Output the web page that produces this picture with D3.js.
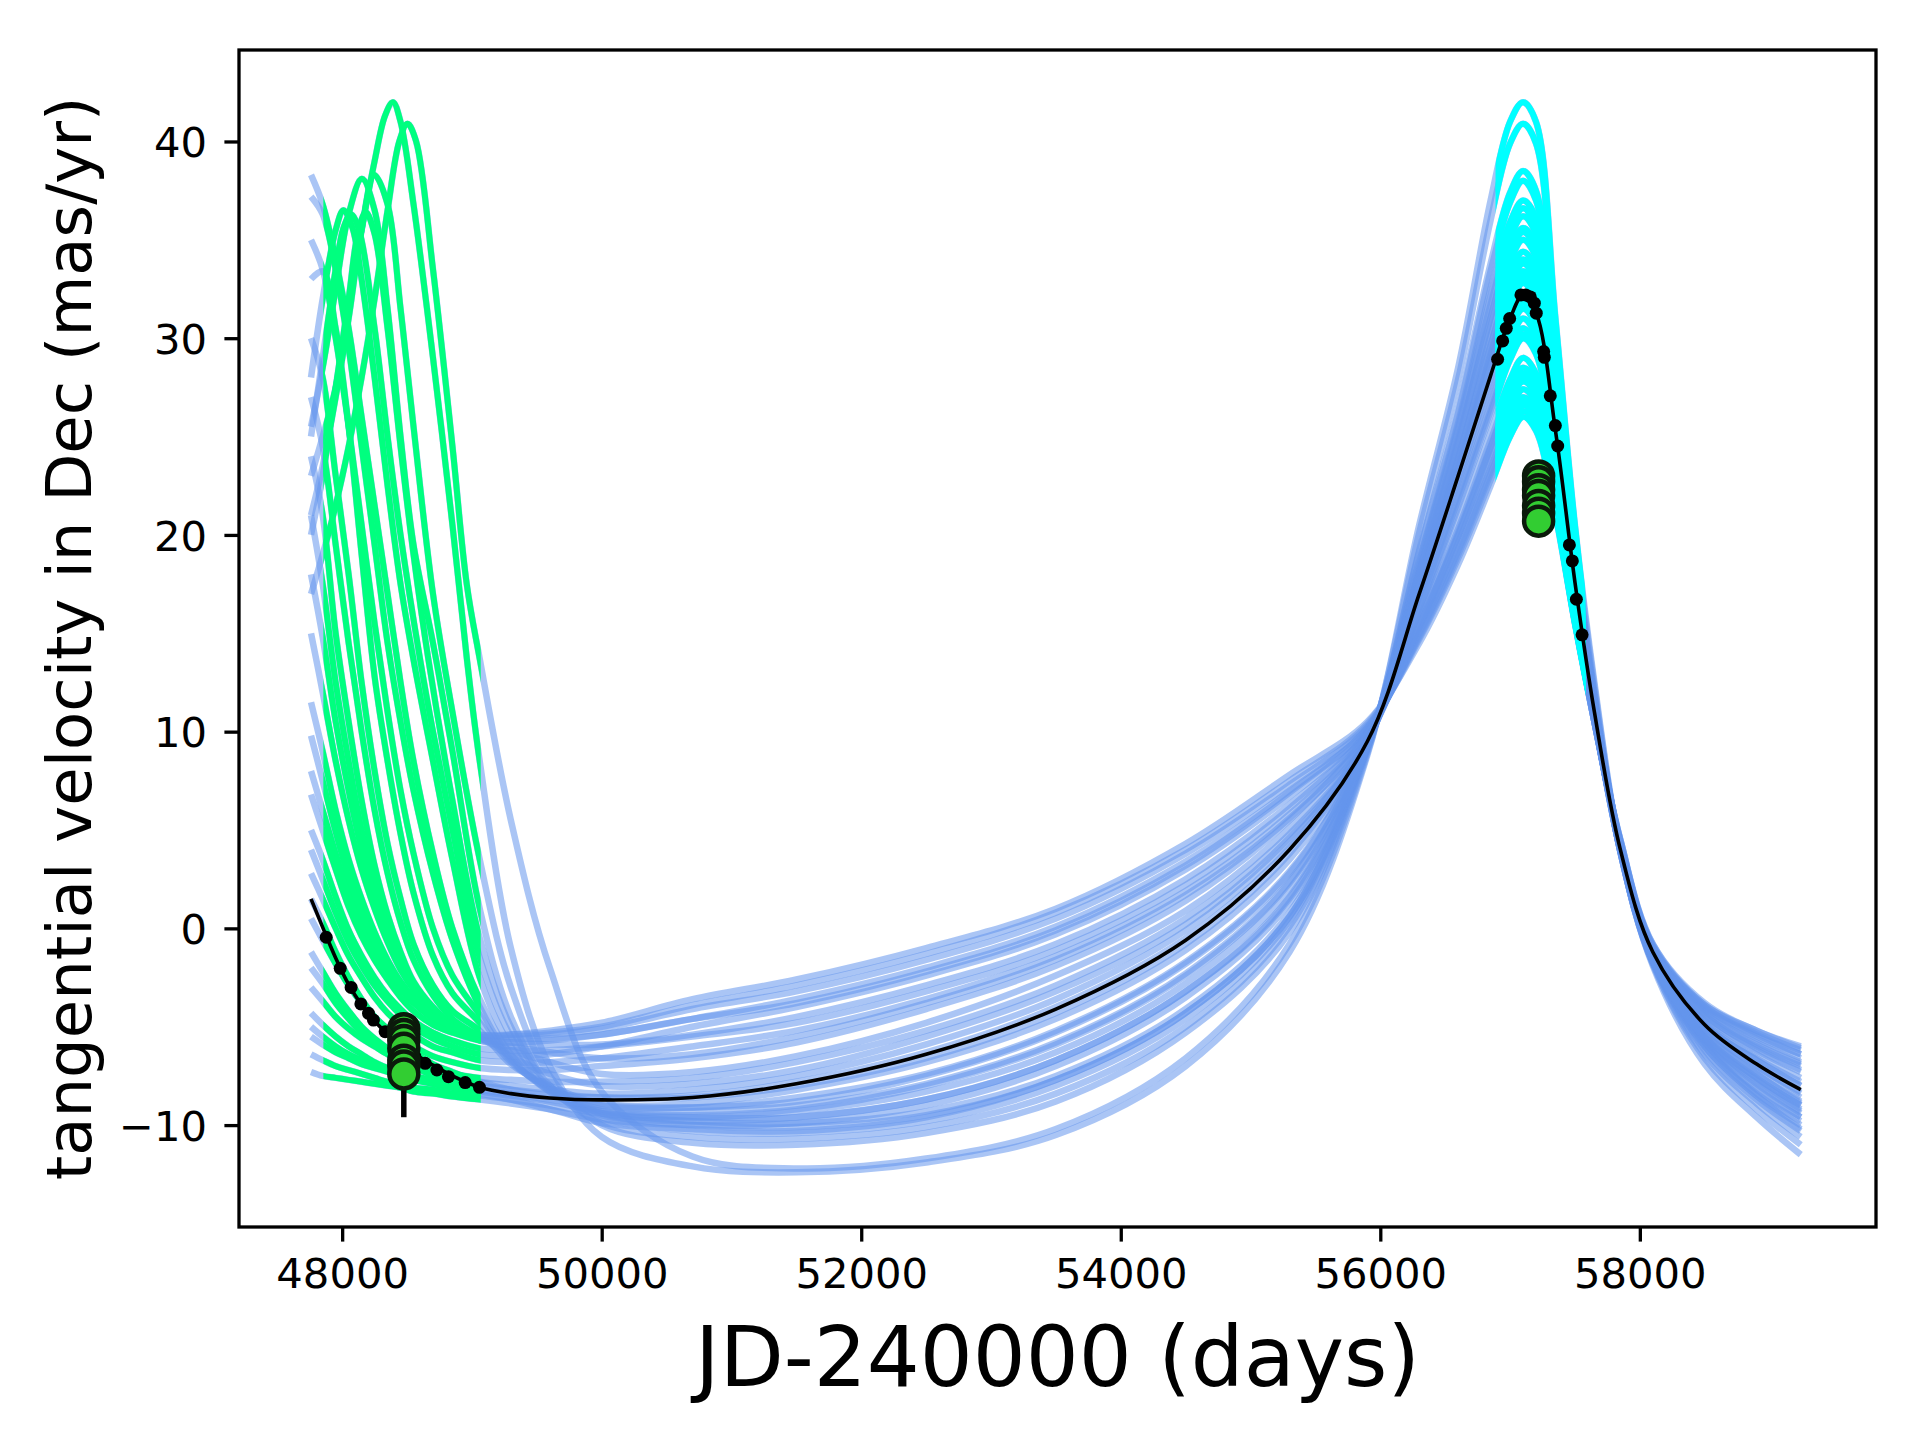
<!DOCTYPE html>
<html>
<head>
<meta charset="utf-8">
<script src="https://cdn.jsdelivr.net/npm/d3@7"></script>
<style>
  body { margin: 0; background: #fff; }
  svg text { font-family: "DejaVu Sans", sans-serif; fill: #000; }
</style>
</head>
<body>
<svg id="chart" width="1920" height="1440"></svg>
<script>
// ---- data ----
const xTicks = [48000, 50000, 52000, 54000, 56000, 58000];
const yTicks = [-10, 0, 10, 20, 30, 40];

// shared day grids
const leftDays  = [47760, 47850, 47950, 48050, 48150, 48250, 48350, 48450, 48550, 48700, 48850, 49060];
const rightDays = [49300, 49600, 50000, 50700, 51500, 52500, 53500, 54500, 55300, 55900, 56300, 56600,
                   56850, 57000, 57100, 57200, 57350, 57500, 57650, 57850, 58100, 58500, 58900, 59240];

// best fit (black), on leftDays + rightDays
const fitVals = [1.5, 0.05, -1.5, -2.85, -3.9, -4.72, -5.35, -5.85, -6.35, -6.95, -7.5, -8.08,
                 -8.4, -8.62, -8.72, -8.6, -7.9, -6.4, -4.1, -0.6, 4.0, 9.5, 17.0, 23.0,
                 28.1, 31.0, 32.2, 31.3, 25.3, 17.6, 11.0, 4.0, -1.2, -4.9, -6.9, -8.2];

// orbits whose earlier peak falls inside the Hipparcos window: [day, v] pairs up to 49060
const peakedLeft = [
  [[47760,23.0],[47850,25.0],[47950,27.5],[48050,31.5],[48150,35.5],[48250,39.0],[48330,41.3],[48391,42.0],[48450,41.0],[48550,36.8],[48700,29.0],[48850,20.5],[48961,13.7],[49060,8.5]],
  [[47760,17.0],[47850,19.0],[47950,21.5],[48050,24.5],[48150,28.0],[48250,32.0],[48350,36.5],[48440,40.0],[48503,40.9],[48570,40.0],[48700,33.5],[48850,24.5],[48960,17.5],[49060,13.7]],
  [[47760,21.0],[47850,23.5],[47950,27.0],[48050,31.0],[48150,35.5],[48247,38.3],[48350,36.8],[48450,31.5],[48550,25.5],[48700,17.0],[48850,11.0],[49060,3.5]],
  [[47760,25.5],[47850,28.5],[47950,32.5],[48050,36.3],[48152,38.1],[48250,36.5],[48350,31.5],[48450,25.0],[48550,19.5],[48700,14.5],[48850,9.0],[49060,1.0]],
  [[47760,20.0],[47850,23.0],[47950,27.5],[48050,32.0],[48120,35.3],[48182,36.4],[48250,35.3],[48350,30.5],[48450,24.5],[48550,19.0],[48665,13.65],[48850,6.5],[49060,-0.5]],
  [[47760,25.0],[47850,29.0],[47950,33.5],[48010,35.6],[48067,36.3],[48130,35.5],[48250,30.5],[48350,25.0],[48450,20.0],[48601,13.65],[48700,10.0],[48850,5.0],[49060,-1.5]],
  [[47760,28.0],[47850,32.0],[47950,35.5],[48010,36.5],[48080,35.6],[48150,33.0],[48250,28.0],[48350,22.5],[48450,17.5],[48550,13.65],[48700,8.5],[48850,3.5],[49060,-2.5]]
];
const peakedRight = [
  [-1.0, -7.0, -10.6, -12.1, -12.4, -11.9, -10.5, -7.0, -1.2, 8.8, 20.5, 28.5, 37.0, 41.0, 42.0, 41.0, 31.0, 20.5, 12.5, 4.0, -1.9, -6.9, -9.6, -11.5],
  [5.5, -2.0, -8.3, -11.6, -12.2, -11.7, -10.2, -6.6, -0.8, 8.9, 20.1, 27.9, 36.0, 39.9, 40.9, 39.9, 30.4, 20.2, 12.3, 4.0, -1.8, -6.6, -9.2, -11.0],
  [-3.0, -7.5, -10.0, -10.9, -11.0, -10.4, -8.8, -5.3, -0.2, 9.0, 19.2, 26.5, 33.8, 37.4, 38.5, 37.5, 29.0, 19.5, 12.0, 3.9, -1.8, -6.4, -8.9, -10.6],
  [-4.5, -8.0, -9.9, -10.6, -10.7, -10.1, -8.4, -5.0, 0.1, 9.1, 19.1, 26.2, 33.4, 36.9, 38.0, 37.0, 28.7, 19.3, 11.9, 3.9, -1.7, -6.2, -8.7, -10.3],
  [-5.0, -8.0, -9.6, -10.3, -10.4, -9.8, -8.0, -4.6, 0.4, 9.2, 18.7, 25.7, 32.5, 35.9, 37.0, 36.1, 28.1, 19.0, 11.7, 3.9, -1.7, -6.0, -8.5, -10.0],
  [-5.5, -8.1, -9.4, -10.0, -10.1, -9.5, -7.7, -4.3, 0.6, 9.2, 18.6, 25.5, 32.1, 35.5, 36.6, 35.7, 27.9, 18.9, 11.7, 3.9, -1.6, -5.9, -8.4, -9.8],
  [-6.0, -8.2, -9.3, -9.8, -9.9, -9.3, -7.5, -4.1, 0.8, 9.3, 18.4, 25.3, 31.7, 35.1, 36.2, 35.3, 27.6, 18.8, 11.6, 3.9, -1.6, -5.8, -8.2, -9.6]
];

// the other orbit samples, values on leftDays and rightDays
const sampleLeft = [
  [38.3, 36.8, 34.0, 30.5, 26.0, 21.5, 17.0, 12.5, 8.5, 3.8, 0.0, -3.6],
  [37.2, 36.3, 33.5, 29.5, 24.5, 19.5, 14.5, 10.5, 7.0, 2.8, -0.6, -4.0],
  [35.0, 33.5, 30.0, 25.5, 20.5, 15.5, 11.0, 7.0, 3.8, 0.0, -2.4, -4.4],
  [33.0, 33.4, 30.5, 25.5, 19.0, 12.8, 8.5, 4.8, 1.8, -1.4, -3.3, -4.8],
  [30.0, 28.0, 23.0, 18.0, 12.5, 8.0, 4.3, 1.5, -0.8, -2.9, -4.2, -5.2],
  [27.0, 24.5, 19.5, 14.5, 10.0, 6.0, 2.8, 0.3, -1.6, -3.4, -4.6, -5.5],
  [24.0, 21.0, 15.0, 10.5, 6.5, 3.2, 0.7, -1.2, -2.7, -4.0, -4.9, -5.6],
  [21.0, 17.5, 12.5, 8.5, 5.0, 2.2, 0.0, -1.7, -2.9, -4.2, -5.0, -5.7],
  [18.0, 14.8, 10.5, 7.0, 4.0, 1.6, -0.3, -1.8, -3.0, -4.2, -5.0, -5.6],
  [15.0, 12.0, 8.5, 5.5, 3.0, 1.0, -0.7, -2.1, -3.1, -4.2, -4.9, -5.5],
  [11.5, 9.0, 6.0, 3.5, 1.5, -0.2, -1.6, -2.7, -3.5, -4.4, -5.0, -5.4],
  [8.0, 6.0, 3.8, 1.8, 0.2, -1.1, -2.2, -3.1, -3.8, -4.6, -5.1, -5.5],
  [4.0, 2.5, 0.8, -0.7, -1.9, -2.9, -3.7, -4.4, -5.0, -5.6, -6.0, -6.4],
  [0.5, -0.6, -1.8, -2.9, -3.8, -4.5, -5.1, -5.6, -6.0, -6.5, -6.8, -7.1],
  [-3.0, -3.7, -4.5, -5.1, -5.6, -6.0, -6.4, -6.7, -7.0, -7.3, -7.5, -7.8],
  [-5.5, -5.9, -6.3, -6.6, -6.9, -7.1, -7.3, -7.5, -7.7, -7.9, -8.1, -8.3],
  [-7.3, -7.5, -7.6, -7.7, -7.8, -7.9, -8.0, -8.1, -8.3, -8.4, -8.55, -8.7],
  [9.8, 7.5, 4.9, 2.6, 0.8, -0.7, -1.9, -2.9, -3.7, -4.5, -5.0, -5.4],
  [6.8, 5.0, 3.0, 1.1, -0.4, -1.6, -2.6, -3.5, -4.2, -4.9, -5.3, -5.7],
  [5.0, 3.5, 1.6, -0.1, -1.4, -2.5, -3.4, -4.1, -4.7, -5.3, -5.7, -6.1],
  [2.8, 1.5, 0.0, -1.4, -2.5, -3.5, -4.3, -4.9, -5.4, -6.0, -6.3, -6.7],
  [1.5, 0.3, -1.2, -2.5, -3.6, -4.5, -5.2, -5.8, -6.3, -6.9, -7.3, -7.8],
  [-1.2, -2.2, -3.3, -4.2, -5.0, -5.6, -6.1, -6.6, -7.0, -7.5, -7.8, -8.2],
  [-2.0, -2.8, -3.8, -4.6, -5.3, -5.8, -6.2, -6.6, -6.9, -7.2, -7.4, -7.6],
  [-4.3, -4.9, -5.5, -6.0, -6.4, -6.8, -7.1, -7.4, -7.6, -7.9, -8.1, -8.4],
  [-5.0, -5.5, -6.0, -6.4, -6.7, -7.0, -7.2, -7.4, -7.5, -7.7, -7.8, -8.0],
  [-6.4, -6.7, -7.0, -7.2, -7.4, -7.6, -7.8, -7.9, -8.1, -8.2, -8.4, -8.5]
];
const sampleRight = [
  [-6.4, -8.3, -9.5, -9.8, -9.6, -8.7, -6.7, -3.2, 1.6, 9.3, 18.1, 24.8, 31.0, 34.3, 35.4, 34.5, 27.2, 18.5, 11.5, 4.2, -1.5, -5.7, -7.9, -9.4],
  [-6.6, -8.3, -9.4, -9.6, -9.3, -8.3, -6.3, -2.8, 2.0, 9.3, 18.0, 24.6, 30.6, 33.9, 35.0, 34.1, 26.9, 18.4, 11.4, 4.2, -1.5, -5.6, -7.7, -9.2],
  [-6.7, -8.2, -9.2, -9.3, -9.0, -7.9, -5.8, -2.3, 2.4, 9.4, 17.8, 24.2, 30.1, 33.3, 34.4, 33.5, 26.6, 18.3, 11.3, 4.1, -1.5, -5.5, -7.6, -9.0],
  [-6.8, -8.1, -9.0, -9.1, -8.6, -7.4, -5.2, -1.7, 2.9, 9.4, 17.6, 23.9, 29.6, 32.6, 33.8, 32.9, 26.2, 18.1, 11.2, 4.1, -1.4, -5.3, -7.4, -8.8],
  [-6.9, -8.0, -8.9, -8.9, -8.2, -6.8, -4.6, -1.1, 3.5, 9.5, 17.3, 23.4, 28.8, 31.8, 33.0, 32.1, 25.8, 17.8, 11.1, 4.1, -1.4, -5.2, -7.2, -8.6],
  [-6.5, -7.4, -8.0, -7.9, -7.2, -5.5, -3.2, 0.2, 4.6, 9.6, 16.5, 22.1, 27.0, 29.8, 31.0, 30.1, 24.5, 17.2, 10.9, 4.0, -1.2, -4.9, -6.7, -8.0],
  [-6.2, -6.8, -7.4, -7.3, -6.5, -4.8, -2.4, 0.9, 5.1, 9.7, 16.1, 21.4, 26.1, 28.9, 30.0, 29.2, 23.8, 16.9, 10.8, 4.1, -1.2, -4.7, -6.4, -7.6],
  [-6.0, -6.3, -6.6, -6.4, -5.5, -3.8, -1.6, 1.7, 5.6, 9.8, 15.7, 20.7, 25.2, 27.9, 29.0, 28.2, 23.1, 16.5, 10.7, 4.2, -1.1, -4.4, -6.1, -7.2],
  [-5.8, -5.9, -5.9, -5.4, -4.5, -2.9, -0.8, 2.5, 6.3, 10.0, 15.4, 20.1, 24.5, 27.1, 28.2, 27.5, 22.5, 16.2, 10.6, 4.3, -1.0, -4.2, -5.8, -6.8],
  [-5.6, -5.6, -5.4, -4.6, -3.6, -2.0, 0.1, 3.4, 7.0, 10.2, 15.1, 19.6, 23.8, 26.3, 27.4, 26.7, 22.0, 15.9, 10.5, 4.4, -0.9, -4.0, -5.4, -6.4],
  [-5.4, -5.3, -5.0, -3.9, -2.9, -1.3, 0.8, 4.0, 7.5, 10.4, 14.8, 19.0, 23.1, 25.5, 26.6, 25.9, 21.4, 15.6, 10.5, 4.5, -0.8, -3.9, -5.2, -6.1],
  [-5.4, -5.2, -4.8, -3.6, -2.6, -1.0, 1.0, 4.3, 7.8, 10.5, 14.5, 18.5, 22.5, 25.0, 26.0, 25.3, 21.0, 15.5, 10.5, 4.5, -0.8, -3.8, -5.2, -6.0],
  [-6.5, -6.4, -6.0, -5.0, -4.0, -2.4, -0.3, 3.0, 6.7, 10.1, 15.0, 19.3, 23.4, 25.9, 27.0, 26.3, 21.7, 15.8, 10.5, 4.3, -1.0, -4.1, -5.6, -6.6],
  [-7.2, -7.2, -7.0, -6.6, -5.8, -4.1, -1.9, 1.4, 5.5, 9.9, 15.6, 20.3, 24.8, 27.4, 28.5, 27.8, 22.7, 16.3, 10.7, 4.2, -1.1, -4.5, -6.2, -7.3],
  [-8.0, -8.2, -8.4, -8.2, -7.5, -5.9, -3.6, -0.1, 4.4, 9.6, 16.3, 21.8, 26.6, 29.4, 30.5, 29.6, 24.2, 17.1, 10.9, 4.0, -1.2, -4.9, -6.7, -8.0],
  [-8.5, -8.8, -9.3, -9.5, -9.2, -8.0, -5.9, -2.4, 2.3, 9.4, 17.2, 23.3, 28.6, 31.6, 32.8, 31.9, 25.7, 17.8, 11.1, 4.2, -1.5, -5.5, -7.6, -9.0],
  [-8.9, -9.2, -9.9, -10.2, -10.3, -9.6, -7.7, -4.3, 0.6, 9.2, 17.7, 24.0, 29.7, 32.8, 34.0, 33.1, 26.3, 18.1, 11.2, 4.3, -1.7, -6.0, -8.5, -10.2],
  [-5.5, -5.4, -5.1, -4.1, -3.2, -1.6, 0.5, 3.8, 7.3, 10.3, 14.7, 18.8, 22.8, 25.3, 26.3, 25.6, 21.2, 15.5, 10.5, 4.5, -0.9, -3.9, -5.3, -6.2],
  [-5.8, -5.7, -5.4, -4.6, -3.8, -2.2, -0.1, 3.2, 6.9, 10.2, 14.9, 19.2, 23.3, 25.8, 26.8, 26.1, 21.6, 15.7, 10.5, 4.4, -0.9, -4.0, -5.5, -6.4],
  [-6.2, -6.2, -6.0, -5.5, -4.8, -3.2, -1.1, 2.2, 6.1, 10.0, 15.3, 19.9, 24.2, 26.8, 27.8, 27.1, 22.3, 16.1, 10.6, 4.3, -1.0, -4.3, -5.9, -6.9],
  [-6.8, -6.8, -6.6, -6.0, -5.2, -3.6, -1.4, 1.9, 5.8, 9.9, 15.4, 20.0, 24.4, 27.0, 28.0, 27.3, 22.4, 16.2, 10.6, 4.3, -1.0, -4.4, -6.0, -7.0],
  [-8.2, -8.5, -8.6, -8.5, -7.8, -6.3, -4.0, -0.5, 4.1, 9.5, 17.0, 22.8, 28.0, 30.8, 31.8, 31.0, 25.1, 17.5, 11.0, 4.0, -1.3, -5.0, -7.0, -8.3],
  [-8.4, -8.7, -9.0, -9.1, -8.8, -7.5, -5.3, -1.8, 2.8, 9.4, 17.4, 23.5, 29.0, 32.0, 33.2, 32.3, 25.9, 17.9, 11.1, 4.2, -1.5, -5.4, -7.4, -8.9],
  [-7.7, -7.8, -7.8, -7.6, -6.8, -5.2, -2.9, 0.5, 4.8, 9.6, 16.2, 21.6, 26.3, 29.1, 30.2, 29.4, 24.0, 17.0, 10.8, 4.0, -1.2, -4.8, -6.6, -7.8],
  [-8.7, -9.2, -9.7, -10.0, -9.9, -9.0, -7.0, -3.5, 1.3, 9.2, 18.1, 24.9, 31.1, 34.5, 35.6, 34.7, 27.3, 18.6, 11.5, 4.2, -1.6, -5.8, -8.1, -9.6],
  [-8.2, -8.4, -8.6, -8.6, -8.0, -6.6, -4.3, -0.8, 3.8, 9.5, 16.9, 22.6, 27.6, 30.4, 31.5, 30.6, 24.9, 17.4, 11.0, 4.0, -1.3, -5.1, -7.0, -8.4],
  [-8.7, -9.0, -9.4, -9.6, -9.6, -8.7, -6.7, -3.2, 1.5, 9.3, 17.5, 23.6, 29.2, 32.2, 33.4, 32.5, 26.0, 18.0, 11.1, 4.2, -1.6, -5.6, -7.8, -9.3]
];

// measured epochs (black dots)
const epochDots = [
  [47877,-0.45],[47985,-2.03],[48069,-3.0],[48144,-3.84],[48203,-4.32],[48241,-4.66],[48331,-5.25],
  [48422,-5.64],[48560,-6.5],[48640,-6.86],[48730,-7.2],[48819,-7.54],[48948,-7.84],[49058,-8.08],
  [56904,28.93],[56943,29.86],[56971,30.5],[56997,31.0],[57084,32.2],[57120,32.2],[57156,32.1],
  [57187,31.78],[57202,31.27],[57259,29.32],[57264,29.03],[57310,27.07],[57349,25.56],[57367,24.52],
  [57457,19.49],[57480,18.68],[57511,16.73],[57555,14.92]
];

// green markers with their error bars
const gaiaDays = [48475, 48475, 48475, 48475, 48475, 48475, 48475,
                  57220, 57220, 57220, 57220, 57220, 57220, 57220];
const gaiaVals = [-5.1, -5.4, -5.7, -6.1, -6.7, -7.0, -7.4,
                  23.0, 22.7, 22.3, 22.0, 21.5, 21.1, 20.7];
const gaiaErr  = [0.3, 0.3, 0.3, 0.3, 0.3, 0.3, 2.2,
                  0.3, 0.3, 0.3, 0.3, 0.3, 0.3, 0.3];

// time windows highlighted in colour
const hipWindow  = [47855, 49068];
const gaiaWindow = [56888, 57580];

// ---- layout ----
const M = {left: 239, right: 1876, top: 50, bottom: 1227};
const x = d3.scaleLinear().domain([47205, 59820]).range([M.left, M.right]);
const y = d3.scaleLinear().domain([-15.18, 44.65]).range([M.bottom, M.top]);

const svg = d3.select('#chart');
svg.append('rect').attr('width', 1920).attr('height', 1440).attr('fill', '#fff');
const defs = svg.append('defs');

function addClip(id, d0, d1){
  defs.append('clipPath').attr('id', id).append('rect')
    .attr('x', x(d0)).attr('y', M.top)
    .attr('width', x(d1) - x(d0)).attr('height', M.bottom - M.top);
}
addClip('plotClip', x.domain()[0], x.domain()[1]);
addClip('hipClip', hipWindow[0], hipWindow[1]);
addClip('gaiaClip', gaiaWindow[0], gaiaWindow[1]);

// build orbit polylines
const orbits = [];
peakedLeft.forEach((pts, i) => {
  orbits.push(pts.concat(rightDays.map((d, j) => [d, peakedRight[i][j]])));
});
sampleLeft.forEach((vals, i) => {
  orbits.push(leftDays.map((d, j) => [d, vals[j]])
    .concat(rightDays.map((d, j) => [d, sampleRight[i][j]])));
});
const fitPts = leftDays.concat(rightDays).map((d, i) => [d, fitVals[i]]);

const line = d3.line()
  .x(d => x(d[0])).y(d => y(d[1]))
  .curve(d3.curveCatmullRom.alpha(0.5));

const plot = svg.append('g').attr('clip-path', 'url(#plotClip)');

// blue samples
plot.append('g').selectAll('path').data(orbits).join('path')
  .attr('d', line).attr('fill', 'none')
  .attr('stroke', '#6495ED').attr('stroke-opacity', 0.55).attr('stroke-width', 6.5);

// green part inside the first window
plot.append('g').attr('clip-path', 'url(#hipClip)')
  .selectAll('path').data(orbits).join('path')
  .attr('d', line).attr('fill', 'none')
  .attr('stroke', '#00FF7F').attr('stroke-width', 6);

// cyan part inside the second window
plot.append('g').attr('clip-path', 'url(#gaiaClip)')
  .selectAll('path').data(orbits).join('path')
  .attr('d', line).attr('fill', 'none')
  .attr('stroke', '#00FFFF').attr('stroke-width', 6);

// best fit
plot.append('path').datum(fitPts)
  .attr('d', line).attr('fill', 'none')
  .attr('stroke', '#000').attr('stroke-width', 3.6);

plot.append('g').selectAll('circle').data(epochDots).join('circle')
  .attr('cx', d => x(d[0])).attr('cy', d => y(d[1])).attr('r', 6.5)
  .attr('fill', '#000');

// error bars, then markers
const gaia = gaiaDays.map((d, i) => ({day: d, v: gaiaVals[i], e: gaiaErr[i]}));
plot.append('g').selectAll('line').data(gaia).join('line')
  .attr('x1', d => x(d.day)).attr('x2', d => x(d.day))
  .attr('y1', d => y(d.v - d.e)).attr('y2', d => y(d.v + d.e))
  .attr('stroke', '#000').attr('stroke-width', 5.5);
plot.append('g').selectAll('circle').data(gaia).join('circle')
  .attr('cx', d => x(d.day)).attr('cy', d => y(d.v)).attr('r', 14.5)
  .attr('fill', '#32CD32').attr('stroke', '#0b1a0b').attr('stroke-width', 4.5);

// ---- axes ----
const minus = d => (d < 0 ? '\u2212' + Math.abs(d) : String(d));

const gx = svg.append('g').attr('transform', `translate(0,${M.bottom})`)
  .call(d3.axisBottom(x).tickValues(xTicks).tickSize(14.6).tickPadding(16.8).tickFormat(d3.format('d')));
const gy = svg.append('g').attr('transform', `translate(${M.left},0)`)
  .call(d3.axisLeft(y).tickValues(yTicks).tickSize(14.6).tickPadding(17.4).tickFormat(minus));

[gx, gy].forEach(g => {
  g.select('.domain').remove();
  g.selectAll('.tick line').attr('stroke', '#000').attr('stroke-width', 3.3);
  g.selectAll('.tick text').attr('font-size', '41.7px')
    .attr('font-family', '"DejaVu Sans", sans-serif').attr('fill', '#000');
});
gy.selectAll('.tick text').attr('dy', '0.365em');

// frame
svg.append('rect')
  .attr('x', M.left).attr('y', M.top)
  .attr('width', M.right - M.left).attr('height', M.bottom - M.top)
  .attr('fill', 'none').attr('stroke', '#000').attr('stroke-width', 3.3);

// labels
svg.append('text')
  .attr('x', (M.left + M.right) / 2).attr('y', 1386)
  .attr('text-anchor', 'middle').attr('font-size', '83.3px')
  .text('JD-240000 (days)');

svg.append('text')
  .attr('transform', `translate(91,${(M.top + M.bottom) / 2}) rotate(-90)`)
  .attr('text-anchor', 'middle').attr('font-size', '62.5px')
  .text('tangential velocity in Dec (mas/yr)');
</script>
</body>
</html>
